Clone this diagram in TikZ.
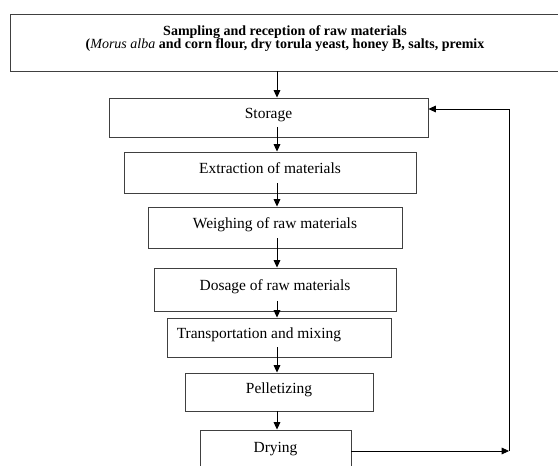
\documentclass[tikz,border=0pt]{standalone}
\usepackage{fontspec}
\setmainfont{Liberation Serif}
\usetikzlibrary{arrows.meta,calc}
\begin{document}
\begin{tikzpicture}[x=0.75pt,y=-0.75pt,
  box/.style={draw=black!75,line width=0.7pt,inner sep=0pt,text height=8pt,text depth=5.8pt,font=\fontsize{11.6}{13}\selectfont},
  arr/.style={black,line width=0.6pt,-{Triangle[length=5.5pt,width=5pt]}}]
\useasboundingbox (0,0) rectangle (558,466);
\node[box,minimum width=412.5pt,minimum height=42.75pt,align=center,text height=,text depth=8pt,font=\bfseries\fontsize{10.5}{10.2}\selectfont] (top) at (285,42.5) {Sampling and reception of raw materials\\(\textit{\mdseries Morus alba} and corn flour, dry torula yeast, honey B, salts, premix};
\node[box,minimum width=239.25pt,minimum height=29.25pt] (storage) at (268.5,117.5) {Storage};
\node[box,minimum width=219pt,minimum height=30.75pt] (extract) at (270,172.5) {Extraction of materials};
\node[box,minimum width=190.5pt,minimum height=30.75pt] (weigh) at (275,227.5) {Weighing of raw materials};
\node[box,minimum width=181.5pt,minimum height=32.25pt] (dose) at (275,289.5) {Dosage of raw materials};
\node[box,minimum width=168pt,minimum height=29.25pt] (mix) at (279,337.5) {Transportation and mixing\hspace{30pt}\mbox{}};
\node[box,minimum width=141pt,minimum height=28.5pt] (pellet) at (279,392) {Pelletizing};
\node[box,minimum width=113.25pt,minimum height=31.5pt] (dry) at (275.5,451) {Drying};
\coordinate (spine) at (277,0);
\coordinate (back) at (509,109);
\draw[arr] (top.south -| spine) -- (storage.north -| spine);
\draw[arr] ($(storage.south -| spine)+(0,8pt)$) -- (extract.north -| spine);
\draw[arr] ($(extract.south -| spine)+(0,7.5pt)$) -- (weigh.north -| spine);
\draw[arr] ($(weigh.south -| spine)+(0,7.5pt)$) -- (dose.north -| spine);
\draw[arr] ($(dose.south -| spine)+(0,8pt)$) -- (mix.north -| spine);
\draw[arr] ($(mix.south -| spine)+(0,7.5pt)$) -- (pellet.north -| spine);
\draw[arr] (pellet.south -| spine) -- (dry.north -| spine);
\draw[arr] (dry.east) -- (dry.east -| back);
\draw[arr] (dry.east -| back) -- (back) -- (storage.east |- back);
\end{tikzpicture}
\end{document}
